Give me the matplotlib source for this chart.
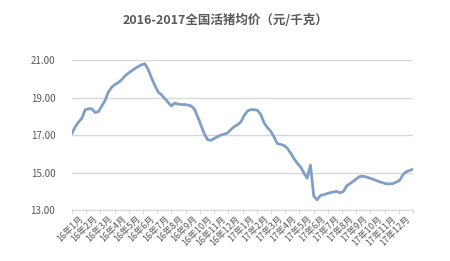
import numpy as np
import matplotlib
matplotlib.use("Agg")
import matplotlib.pyplot as plt

plt.rcParams['font.family'] = ['Noto Sans CJK SC', 'DejaVu Sans']

# weekly national live hog price, yuan/kg, 2016-2017
price = [17.10, 17.45, 17.70, 17.90, 18.35, 18.40, 18.40, 18.20, 18.25, 18.55,
         18.85, 19.30, 19.55, 19.70, 19.80, 19.95, 20.15, 20.30, 20.42, 20.55,
         20.65, 20.75, 20.80, 20.50, 20.05, 19.65, 19.30, 19.15, 18.95, 18.75,
         18.55, 18.70, 18.65, 18.63, 18.63, 18.60, 18.55, 18.38, 17.95, 17.50,
         17.05, 16.75, 16.72, 16.82, 16.92, 17.00, 17.05, 17.12, 17.30, 17.45,
         17.55, 17.70, 18.05, 18.28, 18.36, 18.35, 18.32, 18.10, 17.65, 17.40,
         17.20, 16.90, 16.55, 16.50, 16.45, 16.30, 16.05, 15.75, 15.50, 15.30,
         15.00, 14.70, 15.40, 13.75, 13.55, 13.78, 13.82, 13.88, 13.93, 13.97,
         13.99, 13.92, 14.00, 14.30, 14.42, 14.55, 14.68, 14.80, 14.80, 14.76,
         14.70, 14.64, 14.57, 14.50, 14.45, 14.40, 14.40, 14.42, 14.50, 14.60,
         14.90, 15.05, 15.12, 15.18]

months = [f"{y}年{m}月" for y in (16, 17) for m in range(1, 13)]
yticks = [13, 15, 17, 19, 21]

fig = plt.figure(figsize=(4.5, 2.61), dpi=100)
ax = fig.add_axes([0.16, 0.195, 0.758, 0.575])

x = np.linspace(0, len(months), len(price))
ax.plot(x, price, color='#7f9fc8', linewidth=2.0, solid_joinstyle='round')

ax.set_xlim(0, len(months))
ax.set_ylim(13, 21)
ax.set_yticks(yticks)
ax.set_yticklabels([f"{v:.2f}" for v in yticks], fontsize=7, color='#595959')
ax.yaxis.grid(True, color='#d9d9d9', linewidth=1)
ax.set_axisbelow(True)
ax.tick_params(axis='y', length=0, pad=12)

# category ticks at boundaries, labels at centers
ax.set_xticks(np.arange(len(months) + 1))
ax.set_xticklabels([])
ax.set_xticks(np.arange(len(months)) + 0.5, minor=True)
ax.set_xticklabels(months, minor=True, rotation=45, ha='right', va='top',
                   fontsize=6.5, color='#595959', rotation_mode='anchor')
ax.tick_params(axis='x', which='major', length=3, color='#d9d9d9', direction='out')
ax.tick_params(axis='x', which='minor', length=0, pad=3)

for s in ('top', 'right', 'left'):
    ax.spines[s].set_visible(False)
ax.spines['bottom'].set_color('#d9d9d9')

fig.text(0.5, 0.92, "2016-2017全国活猪均价（元/千克）", ha='center', va='center',
         fontsize=9, fontweight='bold', color='#595959')

fig.savefig("out.png", dpi=100, facecolor='white')
